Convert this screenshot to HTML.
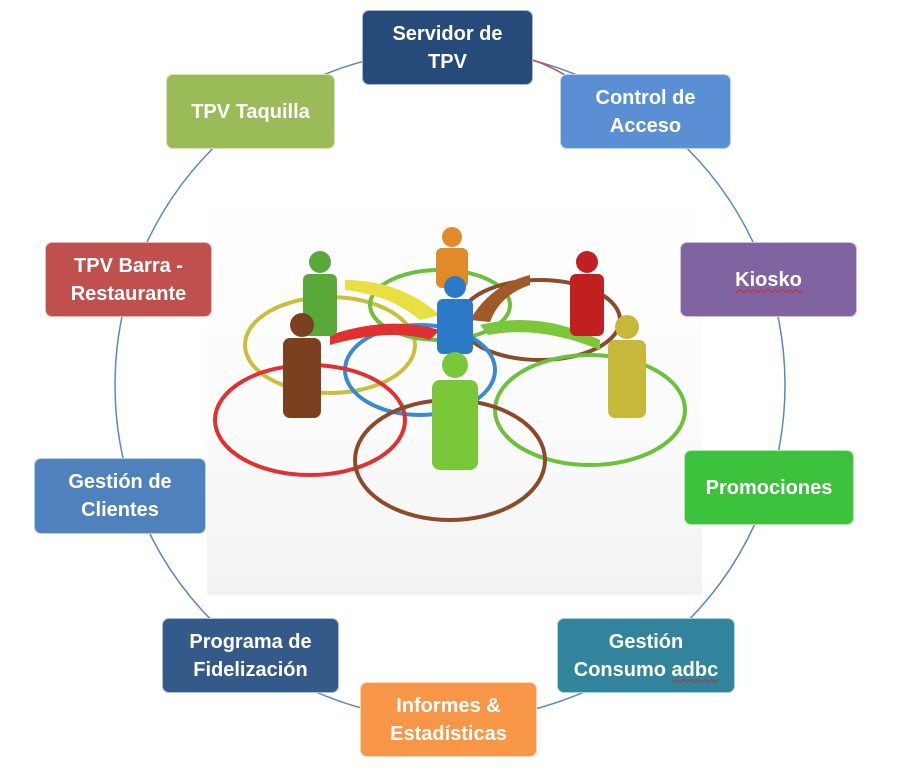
<!DOCTYPE html>
<html><head><style>
body{margin:0;width:900px;height:772px;background:#fff;overflow:hidden;position:relative;font-family:"Liberation Sans",sans-serif}
.b{position:absolute;color:#fff;font-weight:bold;font-size:20px;line-height:28px;display:flex;align-items:center;justify-content:center;text-align:center;border-radius:7px;box-sizing:border-box;border:1px solid rgba(255,255,255,.6)}
.w{text-decoration:underline wavy #e02020;text-decoration-thickness:1px;text-underline-offset:3px}
</style></head><body>
<div style="position:absolute;left:207px;top:185px;width:495px;height:410px;background:linear-gradient(#fff 0%,#fbfbfb 60%,#f2f2f2 100%)"></div>
<svg width="900" height="772" style="position:absolute;left:0;top:0">
<circle cx="450" cy="385" r="335" fill="none" stroke="#5b86c0" stroke-width="1.5"/>
<path d="M533 60 Q550 66 565 75" stroke="#c0504d" stroke-width="1.5" fill="none"/>
<g fill="none" stroke-width="4">
<ellipse cx="330" cy="345" rx="85" ry="48" stroke="#c8c03a"/>
<ellipse cx="440" cy="305" rx="70" ry="35" stroke="#6ac23a"/>
<ellipse cx="540" cy="320" rx="80" ry="40" stroke="#8b4a2a"/>
<ellipse cx="420" cy="370" rx="75" ry="45" stroke="#3a8ad0"/>
<ellipse cx="310" cy="420" rx="95" ry="55" stroke="#e03030"/>
<ellipse cx="590" cy="410" rx="95" ry="55" stroke="#6ac23a"/>
<ellipse cx="450" cy="460" rx="95" ry="60" stroke="#8b4a2a"/>
</g>
<g>
<path d="M345 280 Q400 280 440 315 L420 320 Q390 295 345 290Z" fill="#e8e040"/>
<path d="M530 275 Q490 285 470 320 L490 322 Q500 295 530 285Z" fill="#a05a2a"/>
<path d="M330 335 Q390 315 440 330 L430 340 Q390 328 330 345Z" fill="#e03030"/>
<path d="M600 340 Q540 310 480 325 L488 335 Q540 325 600 350Z" fill="#7ac83a"/>
</g>
<g>
<g fill="#e08a2a"><circle cx="452" cy="237" r="10"/><rect x="436" y="248" width="32" height="40" rx="6"/></g>
<g fill="#5aa83a"><circle cx="320" cy="262" r="11"/><rect x="303" y="274" width="34" height="62" rx="6"/></g>
<g fill="#c02020"><circle cx="587" cy="262" r="11"/><rect x="570" y="274" width="34" height="62" rx="6"/></g>
<g fill="#2a7ac8"><circle cx="455" cy="287" r="11"/><rect x="437" y="299" width="36" height="55" rx="6"/></g>
<g fill="#7a4020"><circle cx="302" cy="325" r="12"/><rect x="283" y="338" width="38" height="80" rx="7"/></g>
<g fill="#c8b83a"><circle cx="627" cy="327" r="12"/><rect x="608" y="340" width="38" height="78" rx="7"/></g>
<g fill="#7ac83a"><circle cx="455" cy="365" r="13"/><rect x="432" y="380" width="46" height="90" rx="8"/></g>
</g>
</svg>
<div class="b" style="left:362px;top:10px;width:171px;height:75px;background:#264a7a">Servidor de<br>TPV</div>
<div class="b" style="left:560px;top:74px;width:171px;height:75px;background:#5b8fd4">Control de<br>Acceso</div>
<div class="b" style="left:166px;top:74px;width:169px;height:75px;background:#9bbb59">TPV Taquilla</div>
<div class="b" style="left:45px;top:242px;width:167px;height:75px;background:#c0504d">TPV Barra -<br>Restaurante</div>
<div class="b" style="left:680px;top:242px;width:177px;height:75px;background:#8064a2"><span class="w">Kiosko</span></div>
<div class="b" style="left:34px;top:458px;width:172px;height:76px;background:#4f81bd">Gestión de<br>Clientes</div>
<div class="b" style="left:684px;top:450px;width:170px;height:75px;background:#3cc23c">Promociones</div>
<div class="b" style="left:162px;top:618px;width:177px;height:75px;background:#345a8a">Programa de<br>Fidelización</div>
<div class="b" style="left:557px;top:618px;width:178px;height:75px;background:#31849b"><span>Gestión<br>Consumo <span class="w">adbc</span></span></div>
<div class="b" style="left:360px;top:682px;width:177px;height:75px;background:#f79646">Informes &amp;<br>Estadísticas</div>
</body></html>
